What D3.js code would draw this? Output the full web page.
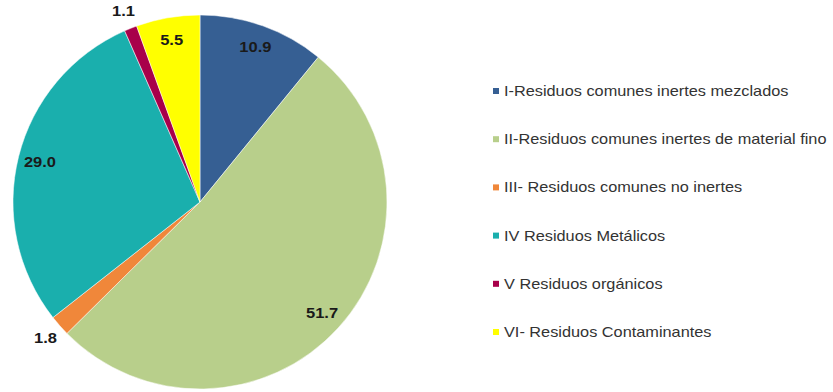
<!DOCTYPE html>
<html><head><meta charset="utf-8">
<script src="https://cdn.jsdelivr.net/npm/d3@7"></script>
<style>html,body{margin:0;padding:0;background:#fff;}</style>
</head><body>
<svg id="c" width="833" height="392"></svg>
<script>
const categories = ["I-Residuos comunes inertes mezclados","II-Residuos comunes inertes de material fino","III- Residuos comunes no inertes","IV Residuos Metálicos","V Residuos orgánicos","VI- Residuos Contaminantes"];
const values = [10.9, 51.7, 1.8, 29.0, 1.1, 5.5];
const colors = ["#365f93","#b8cf8b","#f0873a","#1aafad","#a8004a","#ffff00"];
const outsideLabel = [false,false,true,false,true,false];

const svg = d3.select("#c");
const cx = 200, cy = 202, R = 187;
const g = svg.append("g").attr("transform",`translate(${cx},${cy})`);
const data = categories.map((c,i)=>({c, v: values[i], col: colors[i], out: outsideLabel[i]}));
const pie = d3.pie().value(d=>d.v).sort(null);
const arcs = pie(data);
const arc = d3.arc().innerRadius(0).outerRadius(R);
g.selectAll("path").data(arcs).join("path")
  .attr("d", arc).attr("fill", d=>d.data.col)
  .attr("stroke","#fff").attr("stroke-width",0.5);
const inArc = d3.arc().innerRadius(165).outerRadius(165);
const outArc = d3.arc().innerRadius(206).outerRadius(206);
g.selectAll("text").data(arcs).join("text")
  .attr("transform", d=>`translate(${(d.data.out?outArc:inArc).centroid(d)}) scale(1.1,1)`)
  .attr("text-anchor","middle").attr("dominant-baseline","central")
  .attr("font-family","'Liberation Sans', Arial, sans-serif")
  .attr("font-weight","bold").attr("font-size",15).attr("fill","#1a1a1a")
  .text(d=>d.data.v.toFixed(1));

const lg = svg.append("g");
const rowY = d3.scalePoint().domain(categories).range([91,332]);
const item = lg.selectAll("g").data(data).join("g")
  .attr("transform", d=>`translate(493,${rowY(d.c)})`);
item.append("rect").attr("x",0).attr("y",-3).attr("width",6).attr("height",6).attr("fill",d=>d.col);
item.append("text").attr("transform","translate(11,0) scale(1.165,1)").attr("dominant-baseline","central")
  .attr("font-family","'Liberation Sans', Arial, sans-serif").attr("font-size",14).attr("fill","#333")
  .text(d=>d.c);
</script>
</body></html>
